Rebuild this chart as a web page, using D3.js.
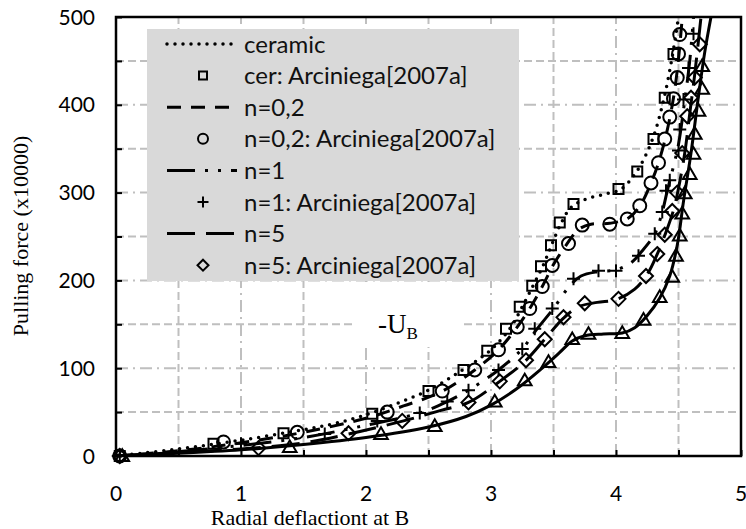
<!DOCTYPE html>
<html><head><meta charset="utf-8">
<script src="https://cdn.jsdelivr.net/npm/d3@7"></script>
<style>body{margin:0;background:#fff}svg{display:block}</style>
</head><body>
<svg id="c" width="746" height="529"></svg>
<script>
// ---- data ----
const xTicks = [0, 1, 2, 3, 4, 5];
const yTicks = [0, 100, 200, 300, 400, 500];

const ceramicLine = [[0,0],[0.5,8],[1,18],[1.5,30],[1.75,37],[2,47],[2.25,60],[2.5,75],[2.75,96],[3.0,121],[3.15,145],[3.25,170],[3.34,195],[3.42,218],[3.49,242],[3.56,265],[3.64,283],[3.75,292],[3.9,298],[4.04,304],[4.17,325],[4.29,360],[4.38,405],[4.45,455],[4.5,500]];
const ceramicPts = [[0.03,0],[0.78,14],[1.34,26],[2.05,48],[2.5,74],[2.78,98],[2.97,120],[3.12,145],[3.23,170],[3.33,194],[3.4,216],[3.48,240],[3.55,266],[3.66,287],[4.02,304],[4.17,324],[4.3,361],[4.39,408],[4.46,458]];

const n02Line = [[0,0],[0.5,6],[1,15],[1.5,27],[2,43],[2.3,57],[2.6,73],[2.87,98],[3.06,121],[3.2,145],[3.31,168],[3.41,193],[3.5,218],[3.6,240],[3.7,258],[3.8,264],[3.95,265],[4.1,271],[4.2,287],[4.28,311],[4.34,334],[4.4,365],[4.46,408],[4.5,452],[4.53,500]];
const n02Pts = [[0.03,0],[0.86,16],[1.45,27],[2.17,50],[2.61,74],[2.87,98],[3.06,121],[3.21,147],[3.31,168],[3.41,193],[3.49,217],[3.62,242],[3.73,263],[3.95,264],[4.09,270],[4.19,285],[4.28,311],[4.34,334],[4.39,361],[4.43,386],[4.46,407],[4.49,431],[4.5,458],[4.51,480]];

const n1Line = [[0,0],[0.5,5],[1,12],[1.5,21],[2,35],[2.43,49],[2.65,62],[2.82,75],[3.06,98],[3.25,122],[3.37,145],[3.5,168],[3.62,192],[3.72,205],[3.86,210],[4.0,212],[4.12,220],[4.2,232],[4.31,253],[4.37,278],[4.41,302],[4.46,330],[4.5,355],[4.55,405],[4.59,450],[4.62,500]];
const n1Pts = [[0.03,0],[1.0,14],[1.67,25],[2.09,40],[2.43,49],[2.65,62],[2.82,75],[3.06,98],[3.25,122],[3.35,145],[3.49,168],[3.66,202],[3.86,211],[4.0,211],[4.18,228],[4.31,253],[4.37,278],[4.4,302],[4.43,314],[4.5,348],[4.51,372],[4.54,406],[4.58,442],[4.62,481]];

const n5Line = [[0,0],[0.5,4],[1,8],[1.5,15],[1.86,25],[2.3,40],[2.6,52],[2.82,61],[3.07,85],[3.28,109],[3.43,133],[3.58,157],[3.7,170],[3.85,175],[4.0,178],[4.15,190],[4.25,207],[4.33,230],[4.4,255],[4.46,280],[4.5,305],[4.55,345],[4.59,390],[4.63,435],[4.68,500]];
const n5Pts = [[0.03,0],[1.14,9],[1.86,26],[2.29,40],[2.82,61],[3.07,85],[3.28,109],[3.43,133],[3.58,158],[3.75,174],[4.02,179],[4.24,205],[4.33,230],[4.39,252],[4.45,279],[4.49,300],[4.53,345],[4.57,387],[4.6,408],[4.63,431],[4.67,469]];

const metalLine = [[0,0],[0.5,3],[1,7],[1.5,13],[2,21],[2.5,33],[2.8,45],[3.0,58],[3.2,76],[3.4,99],[3.55,118],[3.65,131],[3.75,137],[3.9,139],[4.05,140],[4.15,146],[4.25,160],[4.35,180],[4.43,205],[4.49,240],[4.54,290],[4.6,345],[4.66,410],[4.71,460],[4.76,500]];
const metalPts = [[0.05,0],[1.39,10],[2.12,25],[2.55,34],[3.03,62],[3.27,86],[3.46,107],[3.65,133],[3.78,139],[4.05,140],[4.22,155],[4.35,181],[4.45,204],[4.48,228],[4.51,251],[4.53,276],[4.55,299],[4.59,321],[4.62,344],[4.63,367],[4.66,393],[4.69,418],[4.69,444]];

const legendLabels = ["ceramic","cer: Arciniega[2007a]","n=0,2","n=0,2: Arciniega[2007a]","n=1","n=1: Arciniega[2007a]","n=5","n=5: Arciniega[2007a]"];

// ---- layout ----
const svg = d3.select("#c");
const X0 = 116, X1 = 741, Y0 = 456, Y1 = 17;
const x = d3.scaleLinear().domain([0,5]).range([X0,X1]);
const y = d3.scaleLinear().domain([0,500]).range([Y0,Y1]);

svg.append("defs").append("clipPath").attr("id","clip")
  .append("rect").attr("x",X0).attr("y",Y1).attr("width",X1-X0).attr("height",Y0-Y1);

const gridCol = "#bfbfbf";
const g = svg.append("g");
d3.range(0.5,5,0.5).forEach(v=>{
  g.append("line").attr("x1",x(v)).attr("x2",x(v)).attr("y1",Y0).attr("y2",Y1)
   .attr("stroke",gridCol).attr("stroke-width",2)
   .attr("stroke-dasharray", Number.isInteger(v) ? "12,5,2,5" : "8,4");
});
d3.range(50,500,50).forEach(v=>{
  g.append("line").attr("x1",X0).attr("x2",X1).attr("y1",y(v)).attr("y2",y(v))
   .attr("stroke",gridCol).attr("stroke-width",2)
   .attr("stroke-dasharray", v%100===0 ? "12,5,2,5" : "8,4");
});

// axes (ticks inward)
const xAxis = d3.axisBottom(x).tickValues(d3.range(0,5.01,0.5)).tickSize(-6).tickFormat("");
svg.append("g").attr("transform",`translate(0,${Y0})`).call(xAxis)
  .call(a=>a.select(".domain").remove())
  .selectAll("line").attr("stroke","#000").attr("stroke-width",2);
const yAxis = d3.axisLeft(y).tickValues(d3.range(0,501,50)).tickSize(-6).tickFormat("");
svg.append("g").attr("transform",`translate(${X0},0)`).call(yAxis)
  .call(a=>a.select(".domain").remove())
  .selectAll("line").attr("stroke","#000").attr("stroke-width",2);

// tick labels
svg.append("g").selectAll("text").data(xTicks).join("text")
  .attr("x",d=>x(d)).attr("y",501).attr("text-anchor","middle")
  .attr("font-family","Lato").attr("font-size",21).text(d=>d);
svg.append("g").selectAll("text").data(yTicks).join("text")
  .attr("x",95).attr("y",d=>y(d)+7.5).attr("text-anchor","end")
  .attr("font-family","Lato").attr("font-size",21).text(d=>d);

// white text box of the annotation (hides gridlines)
svg.append("rect").attr("x",353).attr("y",282).attr("width",110).attr("height",65).attr("fill","#fff");

// legend box
const LX = 147, LY = 29, LW = 372, LH = 252;
svg.append("rect").attr("x",LX).attr("y",LY).attr("width",LW).attr("height",LH).attr("fill","#d9d9d9");

function markerPath(type, s){
  if(type==="square") return `M${-s},${-s}H${s}V${s}H${-s}Z`;
  if(type==="circle") return `M${s},0A${s},${s} 0 1,1 ${-s},0A${s},${s} 0 1,1 ${s},0Z`;
  if(type==="plus") return `M${-s},0H${s}M0,${-s}V${s}`;
  if(type==="diamond") return `M0,${-s}L${s},0L0,${s}L${-s},0Z`;
  if(type==="triangle") return `M0,${-s*1.05}L${s*1.05},${s*0.75}L${-s*1.05},${s*0.75}Z`;
}
const styles = [
  {dash:"0,8", cap:"round", w:3.5},
  {dash:"14,10", cap:"butt", w:3},
  {dash:"28,10,3,10,3,10", cap:"butt", w:3},
  {dash:"28,11", cap:"butt", w:3},
  {dash:null, cap:"butt", w:3}
];
const lineData = [ceramicLine, n02Line, n1Line, n5Line, metalLine];
const ptData = [ceramicPts, n02Pts, n1Pts, n5Pts, metalPts];
const mTypes = ["square","circle","plus","diamond","triangle"];
const mSize = {square:5, circle:6.5, plus:6.5, diamond:7, triangle:6.5};

const line = d3.line().x(d=>x(d[0])).y(d=>y(d[1])).curve(d3.curveCatmullRom.alpha(0.5));
const plot = svg.append("g").attr("clip-path","url(#clip)");
lineData.forEach((ld,i)=>{
  const st = styles[i];
  plot.append("path").attr("d",line(ld)).attr("fill","none").attr("stroke","#000")
    .attr("stroke-width",st.w).attr("stroke-linecap",st.cap)
    .attr("stroke-dasharray",st.dash);
  svg.append("g").selectAll("path").data(ptData[i]).join("path")
    .attr("transform",d=>`translate(${x(d[0])},${y(d[1])})`)
    .attr("d",markerPath(mTypes[i], mSize[mTypes[i]]))
    .attr("fill","none").attr("stroke","#000").attr("stroke-width",2);
});

// frame
svg.append("rect").attr("x",X0).attr("y",Y1).attr("width",X1-X0).attr("height",Y0-Y1)
  .attr("fill","none").attr("stroke","#000").attr("stroke-width",2.5);

// legend entries
const rowY = i => 44 + i*31.6;
legendLabels.forEach((lab,i)=>{
  const yy = rowY(i);
  const k = Math.floor(i/2);
  if(i%2===0){
    const st = styles[k];
    svg.append("line").attr("x1",167).attr("x2",237).attr("y1",yy).attr("y2",yy)
      .attr("stroke","#000").attr("stroke-width",st.w).attr("stroke-linecap",st.cap)
      .attr("stroke-dasharray",st.dash);
  } else {
    const t = mTypes[k];
    const s = {square:4, circle:5, plus:5.5, diamond:5.5}[t];
    svg.append("path").attr("transform",`translate(203,${yy})`).attr("d",markerPath(t,s))
      .attr("fill","none").attr("stroke","#000").attr("stroke-width",2);
  }
  svg.append("text").attr("x",244).attr("y",yy+8.5).attr("font-family","Lato")
    .attr("font-size",24).attr("fill","#111").text(lab);
});

// annotation -U_B
const ann = svg.append("text").attr("x",378).attr("y",333).attr("font-family","Liberation Serif")
  .attr("font-size",27);
ann.append("tspan").text("-U");
ann.append("tspan").attr("font-size",17).attr("dy",6).text("B");

// axis titles
svg.append("text").attr("x",310).attr("y",525).attr("text-anchor","middle")
  .attr("font-family","Liberation Serif").attr("font-size",22).text("Radial deflactiont at B");
svg.append("text").attr("transform","translate(28,236) rotate(-90)").attr("text-anchor","middle")
  .attr("font-family","Liberation Serif").attr("font-size",22).text("Pulling force (x10000)");
</script>
</body></html>
